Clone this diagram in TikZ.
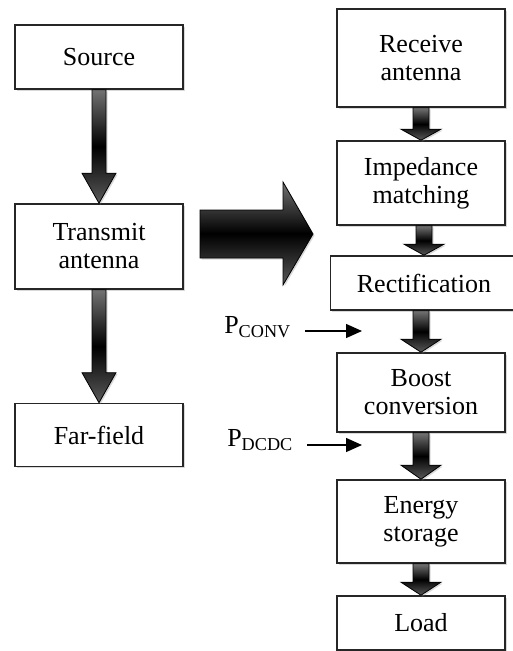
\documentclass[tikz,border=0pt]{standalone}
\usepackage{fontspec}
\setmainfont{Liberation Serif}
\usetikzlibrary{arrows.meta,shadows,calc}
\tikzset{
  box/.style={draw=black!85, line width=1.6pt, fill=white, minimum width=168pt,
    align=center, inner sep=2pt,
    drop shadow={shadow xshift=1.5pt,shadow yshift=-1.5pt,opacity=0.3}},
  fatarrow/.style={draw=black, line width=0.8pt, top color=black!55,
    bottom color=black!65, middle color=black,
    drop shadow={shadow xshift=1.5pt,shadow yshift=-1.5pt,opacity=0.3}},
  thinarrow/.style={line width=1.4pt, -{Triangle[length=16pt,width=14pt]}},
  plabel/.style={anchor=east, inner sep=0pt}
}
\begin{document}
\begin{tikzpicture}[x=1pt,y=-1pt,font=\fontsize{26}{28}\selectfont]
\useasboundingbox (0,0) rectangle (513,651);
% left column
\node [box, minimum height=64pt] (src) at (99,57) {Source};
\node [box, minimum height=85pt] (tx) at (99,246.5) {Transmit\\antenna};
\node [box, minimum height=63pt] (far) at (99,435) {Far-field};
% right column
\node [box, minimum height=98pt] (rx) at (421,58) {Receive\\antenna};
\node [box, minimum height=84pt] (imp) at (421,183) {Impedance\\matching};
\node [box, minimum height=54pt, minimum width=187pt] (rect) at (424,283) {Rectification};
\node [box, minimum height=79pt] (boost) at (421,392.5) {Boost\\conversion};
\node [box, minimum height=83pt] (store) at (421,521.5) {Energy\\storage};
\node [box, minimum height=54pt] (load) at (421,623) {Load};
% fat arrows between boxes
\foreach \a/\b/\s/\h/\l in {src/tx/7/17/30, tx/far/7/17/30, rx/imp/8/20/11,
    imp/rect/8/20/11, rect/boost/8/20/13, boost/store/8/20/14, store/load/8/20/13}
  \path [fatarrow] let \p1=(\a.south), \p2=(\b.north) in
    (\x2-\s,\y1) -- (\x2+\s,\y1) -- (\x2+\s,\y2+\l) -- (\x2+\h,\y2+\l)
    -- (\x2,\y2) -- (\x2-\h,\y2+\l) -- (\x2-\s,\y2+\l) -- cycle;
% big arrow to the receiver
\coordinate (bigtail) at (200,234);
\coordinate (bighead) at (313,234);
\path [fatarrow] let \p1=(bigtail), \p2=(bighead) in
  (\x1,\y1+24) -- (\x2-30,\y1+24) -- (\x2-30,\y1+52) -- (\x2,\y2)
  -- (\x2-30,\y1-51) -- (\x2-30,\y1-24) -- (\x1,\y1-24) -- cycle;
% power labels
\node [plabel] (pconv) at (291,327) {P\textsubscript{CONV}};
\coordinate (pconvtip) at (362,331);
\draw [thinarrow, shorten <=14pt] (pconv.east |- pconvtip) -- (pconvtip);
\node [plabel] (pdcdc) at (293,440) {P\textsubscript{DCDC}};
\coordinate (pdcdctip) at (362,445);
\draw [thinarrow, shorten <=14pt] (pdcdc.east |- pdcdctip) -- (pdcdctip);
\end{tikzpicture}
\end{document}
